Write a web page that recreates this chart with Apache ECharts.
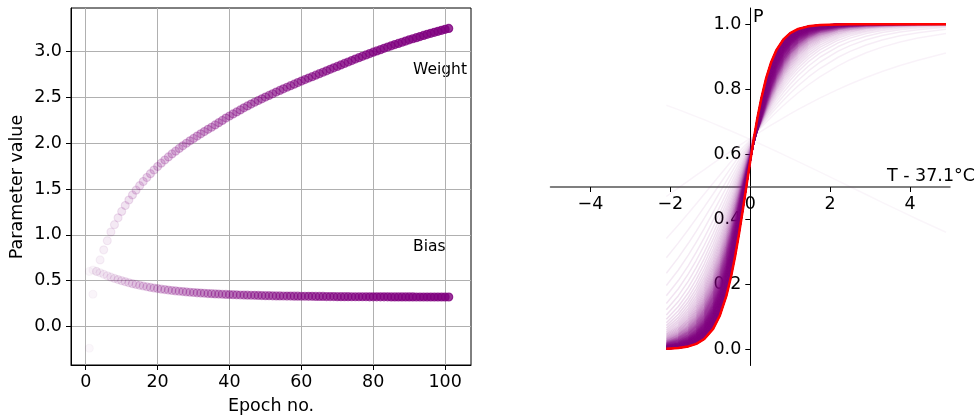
<!DOCTYPE html>
<html>
<head>
<meta charset="utf-8">
<script src="https://cdn.jsdelivr.net/npm/echarts@6/dist/echarts.min.js"></script>
<style>
  html, body { margin: 0; padding: 0; background: #fff; }
  #main { width: 977px; height: 420px; }
</style>
</head>
<body>
<div id="main"></div>
<script>
// epochs of training
var epochs = [
  1, 2, 3, 4, 5, 6, 7, 8, 9, 10,
  11, 12, 13, 14, 15, 16, 17, 18, 19, 20,
  21, 22, 23, 24, 25, 26, 27, 28, 29, 30,
  31, 32, 33, 34, 35, 36, 37, 38, 39, 40,
  41, 42, 43, 44, 45, 46, 47, 48, 49, 50,
  51, 52, 53, 54, 55, 56, 57, 58, 59, 60,
  61, 62, 63, 64, 65, 66, 67, 68, 69, 70,
  71, 72, 73, 74, 75, 76, 77, 78, 79, 80,
  81, 82, 83, 84, 85, 86, 87, 88, 89, 90,
  91, 92, 93, 94, 95, 96, 97, 98, 99, 100,
  101
];

// weight per epoch
var weights = [
  -0.24, 0.35, 0.60, 0.725, 0.835, 0.935, 1.03, 1.11, 1.185, 1.255,
  1.32, 1.38, 1.435, 1.487, 1.536, 1.582, 1.626, 1.668, 1.708, 1.746,
  1.782, 1.817, 1.851, 1.883, 1.914, 1.944, 1.972, 2.0, 2.027, 2.053,
  2.078, 2.103, 2.128, 2.152, 2.175, 2.2, 2.225, 2.25, 2.275, 2.298,
  2.32, 2.342, 2.364, 2.387, 2.408, 2.428, 2.448, 2.467, 2.486, 2.505,
  2.523, 2.541, 2.559, 2.577, 2.595, 2.612, 2.629, 2.646, 2.663, 2.68,
  2.696, 2.712, 2.728, 2.744, 2.76, 2.776, 2.792, 2.808, 2.824, 2.84,
  2.856, 2.872, 2.888, 2.904, 2.92, 2.935, 2.95, 2.965, 2.98, 2.995,
  3.009, 3.023, 3.037, 3.051, 3.065, 3.078, 3.091, 3.104, 3.117, 3.13,
  3.142, 3.154, 3.166, 3.178, 3.19, 3.201, 3.212, 3.223, 3.234, 3.245,
  3.255
];

// bias per epoch
var biases = [
  0.60, 0.615, 0.60, 0.585, 0.568, 0.552, 0.537, 0.523, 0.51, 0.498,
  0.487, 0.476, 0.466, 0.457, 0.448, 0.44, 0.432, 0.425, 0.418, 0.412,
  0.406, 0.401, 0.396, 0.391, 0.387, 0.383, 0.379, 0.375, 0.372, 0.369,
  0.366, 0.363, 0.361, 0.358, 0.356, 0.354, 0.352, 0.35, 0.348, 0.347,
  0.345, 0.344, 0.342, 0.341, 0.34, 0.339, 0.338, 0.337, 0.336, 0.335,
  0.334, 0.333, 0.332, 0.332, 0.331, 0.33, 0.33, 0.329, 0.329, 0.328,
  0.328, 0.327, 0.327, 0.326, 0.326, 0.326, 0.325, 0.325, 0.325, 0.324,
  0.324, 0.324, 0.324, 0.323, 0.323, 0.323, 0.323, 0.323, 0.322, 0.322,
  0.322, 0.322, 0.322, 0.322, 0.321, 0.321, 0.321, 0.321, 0.321, 0.321,
  0.321, 0.32, 0.32, 0.32, 0.32, 0.32, 0.32, 0.32, 0.32, 0.32,
  0.32
];

// temperature offsets (T - 37.1) where the curves are evaluated
var tempOffsets = [-2.1, -1.8, -1.55, -1.35, -1.15, -0.93, -0.76, -0.6, -0.48, -0.38,
  -0.28, -0.18, -0.08, 0, 0.08, 0.18, 0.28, 0.4, 0.52, 0.65, 0.83, 1.0, 1.2,
  1.45, 1.75, 2.2, 2.5, 2.9, 3.3, 3.75, 4.2, 4.9];

// tick labels
var epochTicks = [0, 20, 40, 60, 80, 100];
var paramTicks = [0, 0.5, 1, 1.5, 2, 2.5, 3];
var tempTicks = [-4, -2, 0, 2, 4];
var probTicks = [0, 0.2, 0.4, 0.6, 0.8, 1];

var FONT = 'DejaVu Sans';
var n = epochs.length;

function alphaOf(i) {
  return 0.04 + 0.96 * i / (n - 1);
}
function purple(a) {
  return 'rgba(128,0,128,' + a.toFixed(3) + ')';
}
function sigmoid(z) {
  return 1 / (1 + Math.exp(-z));
}
function fmtMinus(v) {
  return v < 0 ? '\u2212' + Math.abs(v) : String(v);
}
function dot(e, v, i) {
  var c = purple(alphaOf(i));
  return { value: [e, v], itemStyle: { color: c, borderColor: c, borderWidth: 1.2 } };
}

var biasData = epochs.map(function (e, i) { return dot(e, biases[i], i); });
var weightData = epochs.map(function (e, i) { return dot(e, weights[i], i); });

var series = [
  {
    type: 'scatter', xAxisIndex: 0, yAxisIndex: 0,
    symbol: 'circle', symbolSize: 8, data: biasData, silent: true
  },
  {
    type: 'scatter', xAxisIndex: 0, yAxisIndex: 0,
    symbol: 'circle', symbolSize: 8, data: weightData, silent: true
  }
];

// one logistic curve per epoch, fading in
epochs.forEach(function (e, i) {
  series.push({
    type: 'line', xAxisIndex: 1, yAxisIndex: 1,
    showSymbol: false, symbol: 'none', silent: true,
    lineStyle: { color: purple(alphaOf(i)), width: 1.5 },
    data: tempOffsets.map(function (t) {
      return [t, sigmoid(weights[i] * t + biases[i])];
    })
  });
});
// final fit in red
series.push({
  type: 'line', xAxisIndex: 1, yAxisIndex: 1,
  showSymbol: false, symbol: 'none', silent: true,
  lineStyle: { color: '#ff0000', width: 2.5 },
  data: tempOffsets.map(function (t) {
    return [t, sigmoid(weights[n - 1] * t + biases[n - 1])];
  })
});

var labelStyle = { fontSize: 17.5, color: '#000', fontFamily: FONT };

var option = {
  animation: false,
  grid: [
    { left: 71, top: 8, width: 400, height: 357, show: true, borderColor: '#000', borderWidth: 1 },
    { left: 550.5, top: 8, width: 399.5, height: 357.5 }
  ],
  xAxis: [
    {
      type: 'value', gridIndex: 0, min: -4.1, max: 107.2,
      axisLine: { show: true, onZero: false, lineStyle: { color: '#000', width: 1 } },
      axisTick: { show: true, customValues: epochTicks, length: 5, lineStyle: { color: '#000' } },
      axisLabel: Object.assign({ customValues: epochTicks, margin: 8 }, labelStyle),
      splitLine: { show: true, lineStyle: { color: '#b0b0b0', width: 1 } }
    },
    {
      type: 'value', gridIndex: 1, min: -5, max: 5, offset: -178.5,
      axisLine: { show: true, onZero: false, lineStyle: { color: '#555', width: 1.5 } },
      axisTick: { show: true, customValues: tempTicks, length: 5, lineStyle: { color: '#000' } },
      axisLabel: Object.assign({ customValues: tempTicks, margin: 8, formatter: fmtMinus }, labelStyle),
      splitLine: { show: false }
    }
  ],
  yAxis: [
    {
      type: 'value', gridIndex: 0, min: -0.423, max: 3.478,
      axisLine: { show: true, onZero: false, lineStyle: { color: '#000', width: 1 } },
      axisTick: { show: true, customValues: paramTicks, length: 5, lineStyle: { color: '#000' } },
      axisLabel: Object.assign({ customValues: paramTicks, margin: 9, formatter: function (v) { return v.toFixed(1); } }, labelStyle),
      splitLine: { show: true, lineStyle: { color: '#b0b0b0', width: 1 } }
    },
    {
      type: 'value', gridIndex: 1, min: -0.05, max: 1.05, position: 'left', offset: -199.8,
      axisLine: { show: true, onZero: false, lineStyle: { color: '#000', width: 1 } },
      axisTick: { show: true, customValues: probTicks, length: 5, lineStyle: { color: '#000' } },
      axisLabel: Object.assign({ customValues: probTicks, margin: 9, formatter: function (v) { return v.toFixed(1); } }, labelStyle),
      splitLine: { show: false }
    }
  ],
  graphic: [
    { type: 'text', x: 413, y: 69.8, style: { text: 'Weight', font: '15.5px ' + FONT, fill: '#000', textAlign: 'left', textVerticalAlign: 'middle' } },
    { type: 'text', x: 413, y: 246.5, style: { text: 'Bias', font: '15.5px ' + FONT, fill: '#000', textAlign: 'left', textVerticalAlign: 'middle' } },
    { type: 'text', x: 271, y: 406, style: { text: 'Epoch no.', font: '17.5px ' + FONT, fill: '#000', textAlign: 'center', textVerticalAlign: 'middle' } },
    { type: 'text', x: 17.3, y: 187, rotation: Math.PI / 2, style: { text: 'Parameter value', font: '17.5px ' + FONT, fill: '#000', textAlign: 'center', textVerticalAlign: 'middle' } },
    { type: 'text', x: 753, y: 17.3, style: { text: 'P', font: '17.5px ' + FONT, fill: '#000', textAlign: 'left', textVerticalAlign: 'middle' } },
    { type: 'text', x: 975, y: 176.3, style: { text: 'T - 37.1\u00b0C', font: '17.5px ' + FONT, fill: '#000', textAlign: 'right', textVerticalAlign: 'middle' } }
  ],
  series: series
};

var myChart = echarts.init(document.getElementById('main'));
myChart.setOption(option);
</script>
</body>
</html>
